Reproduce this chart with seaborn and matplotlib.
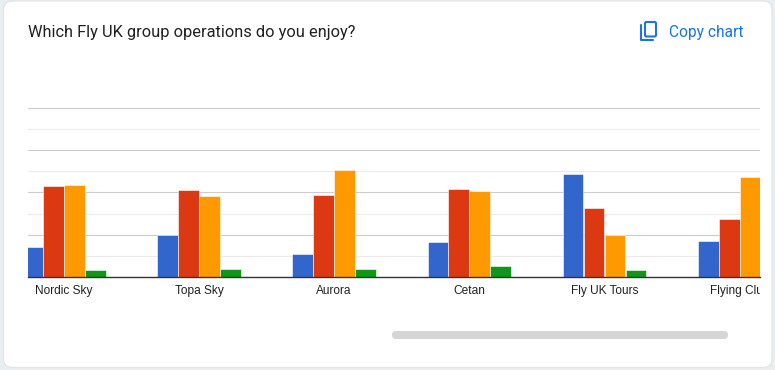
import matplotlib
matplotlib.use('Agg')
import matplotlib.pyplot as plt
import pandas as pd
import seaborn as sns
from matplotlib.lines import Line2D
from matplotlib.patches import FancyBboxPatch
from matplotlib.ticker import MultipleLocator, NullFormatter
from matplotlib.transforms import Affine2D, Bbox, TransformedBbox

# Values
operations = ['Nordic Sky', 'Topa Sky', 'Aurora', 'Cetan', 'Fly UK Tours', 'Flying Club']
blue_values = [28, 40, 22, 33, 97, 34]
red_values = [86, 82, 78, 83, 65, 55]
orange_values = [87, 77, 101, 81, 40, 95]
green_values = [6, 7, 7, 10, 6, 6]
series_names = ['Series 1', 'Series 2', 'Series 3', 'Series 4']
series_colors = ['#3366cc', '#dc3912', '#ff9900', '#109618']

W, H = 775, 370
BASE = 276.8

df = pd.DataFrame({
    'Operation': operations * 4,
    'Series': [s for s in series_names for _ in operations],
    'Value': blue_values + red_values + orange_values + green_values,
})

sns.set_theme(style='white')
fig = plt.figure(figsize=(W / 100, H / 100), dpi=100, facecolor='#e9eef3')
px = Affine2D().scale(1 / W, -1 / H).translate(0, 1) + fig.transFigure

# Card behind the chart
fig.add_artist(FancyBboxPatch((3.5, 1), 768.5, 366.5, boxstyle='round,pad=0,rounding_size=9',
                              transform=px, fc='white', ec='#e0e4e7', lw=0.8, zorder=-1))

# Axes area in pixels: left 28, right 760
ax = fig.add_axes([28 / W, 1 - BASE / H, 732 / W, (BASE - 100) / H])
ax.patch.set_alpha(0)
sns.barplot(data=df, x='Operation', y='Value', hue='Series', palette=series_colors,
            width=0.62, gap=0.01, saturation=1, legend=False, ax=ax)

# thin white outline keeps the 1px gap between bars
for bar in ax.patches:
    bar.set_edgecolor('white')
    bar.set_linewidth(0.4)

ax.set_xlim(-0.2645, 5.15)
ax.set_ylim(0, (BASE - 100) / 1.055)
ax.set_xlabel('')
ax.set_ylabel('')

ax.yaxis.set_major_locator(MultipleLocator(40))
ax.yaxis.set_minor_locator(MultipleLocator(20))
ax.yaxis.set_major_formatter(NullFormatter())
ax.set_axisbelow(True)
ax.grid(True, which='major', axis='y', color='#cccccc', lw=0.8)
ax.grid(True, which='minor', axis='y', color='#ebebeb', lw=0.8)
ax.grid(False, axis='x')
ax.tick_params(axis='both', which='both', length=0)
ax.tick_params(axis='x', pad=6.2, labelsize=8.6, labelcolor='#222222')

for side in ['left', 'right', 'top']:
    ax.spines[side].set_visible(False)
ax.spines['bottom'].set_color('#333333')
ax.spines['bottom'].set_linewidth(1)

# Last label runs off the scroll area
clip = TransformedBbox(Bbox([[0, 0], [760 / W, 1]]), fig.transFigure)
for label in ax.get_xticklabels():
    label.set_family(['Liberation Sans', 'DejaVu Sans'])
    label.set_clip_box(clip)
    label.set_clip_on(True)

fig.text(28, 32, 'Which Fly UK group operations do you enjoy?', transform=px, family='Roboto',
         fontsize=11.8, color='#212121', ha='left', va='center')
fig.text(669, 32, 'Copy chart', transform=px, family='Roboto', fontsize=11.2,
         color='#1a73e8', ha='left', va='center')

# Copy icon
fig.add_artist(FancyBboxPatch((645, 22), 11, 14.5, boxstyle='round,pad=0,rounding_size=1.5',
                              transform=px, fc='none', ec='#1a73e8', lw=1.5))
fig.add_artist(Line2D([641, 641, 653], [25, 40, 40], transform=px, color='#1a73e8', lw=1.5))

# Scrollbar
fig.add_artist(FancyBboxPatch((392, 331), 336, 8, boxstyle='round,pad=0,rounding_size=4',
                              transform=px, fc='#d6d6d6', ec='none'))

fig.savefig('out.png', dpi=100, facecolor=fig.get_facecolor())
